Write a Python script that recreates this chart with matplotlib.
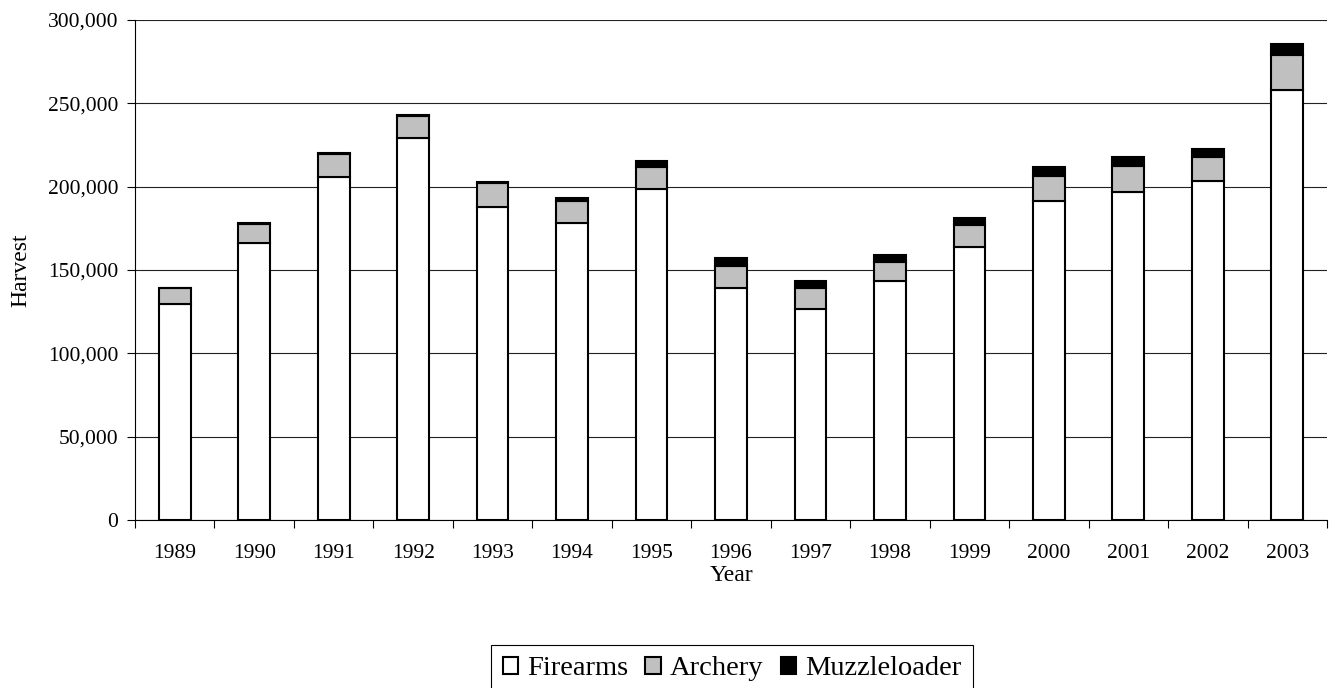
import numpy as np
import matplotlib
matplotlib.use("Agg")
import matplotlib.pyplot as plt
from matplotlib.ticker import FuncFormatter

plt.rcParams['font.family'] = ['Liberation Serif', 'DejaVu Serif']

# Harvest by year and method
years = ['1989', '1990', '1991', '1992', '1993', '1994', '1995', '1996',
         '1997', '1998', '1999', '2000', '2001', '2002', '2003']
firearms = [129500, 166400, 206000, 229000, 188000, 178000, 198400, 139000,
            126400, 143400, 164000, 191200, 196800, 203600, 258000]
archery = [9500, 11000, 13600, 13500, 14000, 13600, 13600, 13600,
           12800, 11600, 12800, 15400, 15600, 14400, 21000]
muzzleloader = [500, 600, 700, 800, 1000, 1800, 3400, 4800,
                4200, 4200, 4200, 5400, 5400, 4400, 6400]

W, H = 1333, 688
fig = plt.figure(figsize=(W / 100, H / 100), dpi=100)
ax = fig.add_axes([135 / W, 1 - 520 / H, (1327 - 135) / W, 500 / H])

x = np.arange(len(years))
w = 0.40
f = np.array(firearms)
a = np.array(archery)
m = np.array(muzzleloader)

ax.bar(x, f, w, color='white', edgecolor='black', linewidth=1.5, label='Firearms', zorder=3)
ax.bar(x, a, w, bottom=f, color='#c0c0c0', edgecolor='black', linewidth=1.5, label='Archery', zorder=3)
ax.bar(x, m, w, bottom=f + a, color='black', edgecolor='black', linewidth=1.5, label='Muzzleloader', zorder=3)

ax.set_xlim(-0.5, len(years) - 0.5)
ax.set_ylim(0, 300000)
ax.set_yticks(np.arange(0, 300001, 50000))
ax.yaxis.set_major_formatter(FuncFormatter(lambda v, p: f'{int(v):,}'))
ax.grid(axis='y', color='#222222', linewidth=0.8, zorder=0)
ax.set_axisbelow(True)

# ticks between categories, labels at centers
ax.set_xticks(np.arange(-0.5, len(years), 1))
ax.set_xticklabels([])
ax.set_xticks(x, minor=True)
ax.set_xticklabels(years, minor=True)
ax.tick_params(axis='x', which='major', length=6, width=0.8, direction='out')
ax.tick_params(axis='x', which='minor', length=0, pad=17, labelsize=15.5)
ax.tick_params(axis='y', length=6, width=0.8, direction='out', labelsize=15.5, pad=6)

for s in ['top', 'right']:
    ax.spines[s].set_visible(False)
for s in ['left', 'bottom']:
    ax.spines[s].set_linewidth(0.8)

ax.set_ylabel('Harvest', fontsize=17, labelpad=12)
ax.set_xlabel('Year', fontsize=17, labelpad=2)

leg = fig.legend(loc='upper center', bbox_to_anchor=(732 / W, 1 - 645 / H), ncol=3, fontsize=20.5,
                 frameon=True, fancybox=False, edgecolor='black', framealpha=1,
                 handlelength=0.53, handleheight=0.53, handletextpad=0.33,
                 columnspacing=0.6, borderpad=0.4, borderaxespad=0)
leg.get_frame().set_linewidth(0.8)

fig.savefig('out.png', dpi=100)
